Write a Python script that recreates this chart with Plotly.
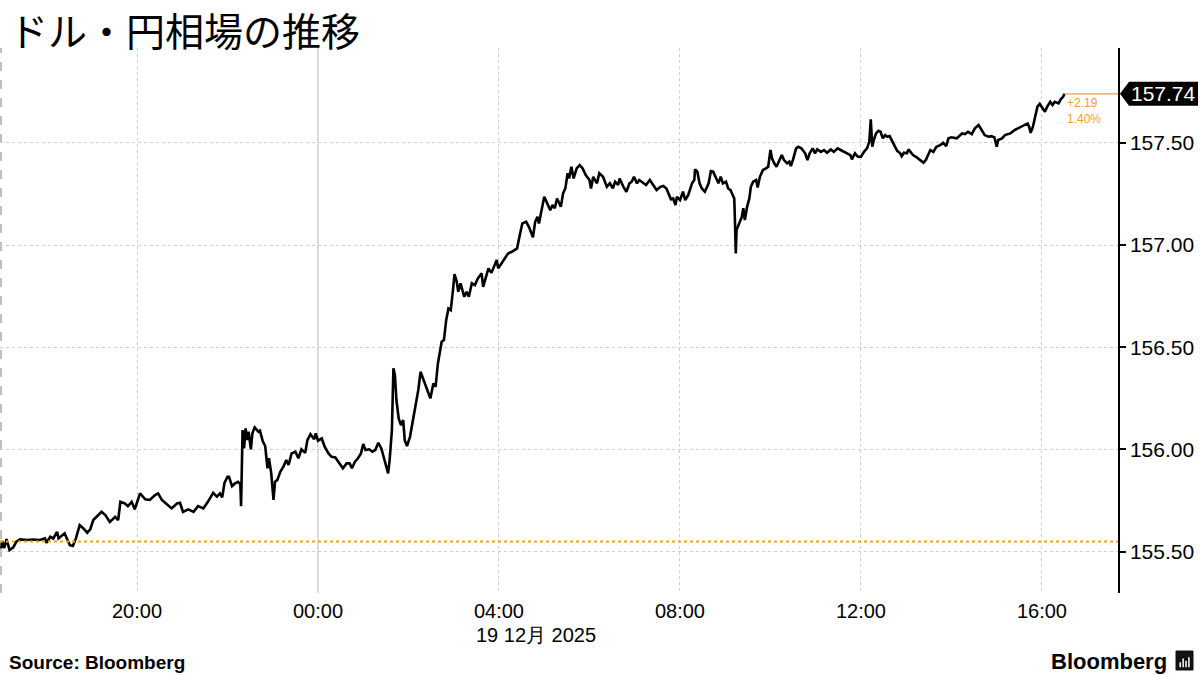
import pandas as pd
import plotly.graph_objects as go

# ---------------- data ----------------
start = pd.Timestamp("2025-12-18 17:00")
# minutes since 2025-12-18 17:00 (JST)
minutes = [0, 1, 4, 7, 11, 16, 20, 25, 34, 42, 51, 58, 60, 65, 69, 74, 76, 80, 84, 87,
           91, 95, 99, 104, 109, 114, 118, 122, 129, 133, 138, 144, 151, 155, 158, 164, 168, 173, 177, 184,
           191, 197, 204, 208, 213, 219, 226, 233, 237, 241, 248, 255, 261, 268, 274, 281, 286, 290, 293, 296,
           300, 302, 306, 310, 314, 317, 318, 320, 322, 324, 326, 328, 331, 333, 336, 341, 343, 347, 350, 353,
           355, 358, 361, 363, 366, 370, 374, 378, 381, 385, 390, 394, 398, 403, 406, 410, 415, 417, 420, 425,
           429, 434, 438, 443, 447, 453, 458, 462, 465, 469, 473, 477, 480, 483, 488, 492, 496, 500, 504, 507,
           511, 513, 515, 518, 520, 522, 524, 527, 530, 533, 535, 538, 542, 546, 550, 553, 556, 560, 564, 569,
           573, 576, 579, 584, 587, 590, 593, 596, 599, 601, 604, 606, 609, 614, 617, 620, 624, 628, 632, 637,
           639, 643, 646, 650, 654, 657, 659, 663, 668, 672, 677, 681, 684, 688, 691, 696, 700, 705, 708, 711,
           713, 717, 720, 724, 728, 731, 734, 737, 742, 745, 748, 751, 753, 756, 759, 763, 767, 771, 775, 780,
           782, 785, 790, 793, 798, 803, 807, 811, 814, 818, 820, 825, 829, 833, 836, 839, 843, 846, 851, 855,
           860, 865, 869, 874, 878, 882, 885, 888, 891, 894, 896, 900, 904, 907, 911, 916, 919, 920, 923, 926,
           929, 933, 938, 941, 944, 948, 951, 954, 957, 961, 964, 967, 970, 972, 973, 974, 975, 979, 982, 984,
           986, 989, 992, 994, 997, 1001, 1003, 1006, 1010, 1014, 1017, 1020, 1022, 1025, 1028, 1032, 1035, 1038, 1042, 1045,
           1047, 1050, 1054, 1057, 1061, 1066, 1069, 1072, 1076, 1079, 1082, 1087, 1091, 1095, 1100, 1104, 1109, 1113, 1118, 1122,
           1126, 1128, 1132, 1136, 1140, 1144, 1148, 1151, 1153, 1155, 1157, 1160, 1163, 1166, 1169, 1172, 1175, 1178, 1182, 1185,
           1188, 1192, 1194, 1197, 1201, 1203, 1206, 1209, 1214, 1218, 1223, 1226, 1229, 1232, 1236, 1240, 1245, 1249, 1253, 1256,
           1260, 1267, 1274, 1278, 1282, 1287, 1291, 1296, 1300, 1304, 1309, 1313, 1317, 1320, 1322, 1327, 1331, 1338, 1344, 1351,
           1358, 1361, 1363, 1365, 1368, 1371, 1374, 1377, 1381, 1384, 1387, 1391, 1394, 1397, 1402, 1405, 1408, 1410]
prices = [155.516, 155.553, 155.518, 155.562, 155.508, 155.521, 155.549, 155.560, 155.557, 155.560,
          155.557, 155.565, 155.544, 155.573, 155.565, 155.597, 155.565, 155.576, 155.590, 155.565,
          155.532, 155.528, 155.565, 155.630, 155.614, 155.593, 155.609, 155.655, 155.679, 155.695,
          155.679, 155.646, 155.671, 155.655, 155.744, 155.736, 155.723, 155.744, 155.707, 155.785,
          155.756, 155.753, 155.777, 155.785, 155.753, 155.736, 155.712, 155.736, 155.739, 155.695,
          155.707, 155.695, 155.723, 155.712, 155.744, 155.788, 155.769, 155.785, 155.766, 155.837,
          155.867, 155.867, 155.821, 155.834, 155.842, 155.831, 155.723, 156.095, 156.005, 156.103,
          156.046, 156.087, 156.001, 156.079, 156.108, 156.087, 156.092, 156.038, 156.017, 155.908,
          155.957, 155.883, 155.753, 155.842, 155.850, 155.891, 155.915, 155.948, 155.924, 155.981,
          155.989, 155.957, 156.001, 155.984, 156.046, 156.075, 156.050, 156.079, 156.043, 156.054,
          156.013, 155.981, 155.964, 155.961, 155.940, 155.908, 155.932, 155.932, 155.908, 155.940,
          155.957, 155.981, 156.027, 155.997, 156.001, 155.989, 155.997, 156.033, 156.005, 155.964,
          155.913, 155.883, 155.948, 156.095, 156.397, 156.364, 156.242, 156.152, 156.119, 156.144,
          156.046, 156.017, 156.062, 156.144, 156.226, 156.291, 156.380, 156.340, 156.291, 156.250,
          156.323, 156.307, 156.421, 156.527, 156.535, 156.633, 156.690, 156.682, 156.780, 156.858,
          156.820, 156.772, 156.813, 156.747, 156.772, 156.747, 156.813, 156.804, 156.837, 156.862,
          156.796, 156.853, 156.886, 156.864, 156.902, 156.927, 156.886, 156.910, 156.935, 156.959,
          156.967, 156.976, 156.984, 157.057, 157.106, 157.114, 157.087, 157.038, 157.114, 157.138,
          157.106, 157.180, 157.236, 157.204, 157.171, 157.196, 157.180, 157.228, 157.187, 157.253,
          157.277, 157.351, 157.326, 157.383, 157.326, 157.375, 157.391, 157.375, 157.342, 157.318,
          157.277, 157.334, 157.302, 157.351, 157.334, 157.285, 157.302, 157.277, 157.310, 157.294,
          157.326, 157.285, 157.261, 157.302, 157.310, 157.334, 157.302, 157.318, 157.302, 157.294,
          157.318, 157.294, 157.269, 157.285, 157.289, 157.277, 157.245, 157.224, 157.228, 157.196,
          157.236, 157.220, 157.261, 157.220, 157.245, 157.302, 157.318, 157.370, 157.359, 157.302,
          157.277, 157.261, 157.302, 157.362, 157.359, 157.326, 157.302, 157.334, 157.302, 157.310,
          157.277, 157.269, 157.245, 157.228, 157.106, 156.959, 157.073, 157.114, 157.138, 157.180,
          157.122, 157.187, 157.228, 157.285, 157.310, 157.318, 157.282, 157.334, 157.367, 157.375,
          157.383, 157.465, 157.424, 157.400, 157.383, 157.416, 157.440, 157.416, 157.400, 157.408,
          157.386, 157.419, 157.473, 157.481, 157.473, 157.449, 157.416, 157.449, 157.473, 157.449,
          157.468, 157.456, 157.465, 157.452, 157.468, 157.456, 157.473, 157.465, 157.456, 157.445,
          157.440, 157.419, 157.449, 157.432, 157.432, 157.456, 157.473, 157.505, 157.615, 157.481,
          157.514, 157.546, 157.559, 157.554, 157.522, 157.538, 157.530, 157.533, 157.505, 157.481,
          157.461, 157.449, 157.435, 157.452, 157.449, 157.468, 157.456, 157.440, 157.429, 157.416,
          157.403, 157.416, 157.445, 157.465, 157.456, 157.481, 157.489, 157.500, 157.484, 157.522,
          157.527, 157.522, 157.546, 157.543, 157.554, 157.543, 157.571, 157.587, 157.563, 157.538,
          157.530, 157.533, 157.527, 157.481, 157.514, 157.522, 157.538, 157.546, 157.563, 157.576,
          157.587, 157.595, 157.579, 157.549, 157.579, 157.625, 157.677, 157.690, 157.669, 157.652,
          157.677, 157.701, 157.685, 157.701, 157.693, 157.713, 157.725, 157.740]

prev_close = 155.55
change_label = "+2.19"
pct_label = "1.40%"

title_text = "ドル・円相場の推移"
source_text = "Source: Bloomberg"
date_label = "19 12月 2025"

x_tick_vals = ["2025-12-18 20:00", "2025-12-19 00:00", "2025-12-19 04:00",
               "2025-12-19 08:00", "2025-12-19 12:00", "2025-12-19 16:00"]
x_tick_text = ["20:00", "00:00", "04:00", "08:00", "12:00", "16:00"]
y_tick_vals = [155.5, 156.0, 156.5, 157.0, 157.5]
y_tick_text = ["155.50", "156.00", "156.50", "157.00", "157.50"]
midnight = "2025-12-19 00:00"
x_range = ["2025-12-18 16:58:20", "2025-12-19 17:40:50"]
y_range = [155.298, 157.964]

# --------------- figure ----------------
times = start + pd.to_timedelta(minutes, unit="min")
last_t = times[-1]
last_p = prices[-1]

ORANGE = "#F0A030"
FONT = "Liberation Sans, Arial, sans-serif"

W, H = 1200, 675
ML, MR, MT, MB = 0, 82, 48, 82
PW = W - ML - MR
PH = H - MT - MB
yunit = (y_range[1] - y_range[0]) / PH  # data units per pixel


def px_x(p):
    return p / PW


def px_y(p):
    """pixel row from top of page -> paper y"""
    return (MT + PH - p) / PH


fig = go.Figure()
fig.add_trace(go.Scatter(x=times, y=prices, mode="lines",
                         line=dict(color="black", width=2.6),
                         hoverinfo="skip", showlegend=False))

shapes = [
    # left dashed border
    dict(type="line", xref="paper", yref="paper", x0=px_x(1), x1=px_x(1), y0=0, y1=1,
         line=dict(color="#aaaaaa", width=1.5, dash="dash"), layer="below"),
    # midnight solid line
    dict(type="line", xref="x", yref="paper", x0=midnight, x1=midnight, y0=0, y1=1,
         line=dict(color="#c4c4c4", width=1), layer="below"),
    # previous close
    dict(type="line", xref="paper", yref="y", x0=0, x1=1, y0=prev_close, y1=prev_close,
         line=dict(color=ORANGE, width=2, dash="dot"), layer="above"),
    # last price connector
    dict(type="line", xref="x", yref="y", x0=last_t, x1=x_range[1], y0=last_p, y1=last_p,
         line=dict(color=ORANGE, width=1.2)),
]
# last price tag (arrow box)
hh = 12 * yunit
tip = 1 + px_x(2)
body = 1 + px_x(11)
right = 1 + px_x(80)
shapes.append(dict(type="path", xref="paper", yref="y",
                   path=f"M {tip},{last_p} L {body},{last_p + hh} L {right},{last_p + hh} "
                        f"L {right},{last_p - hh} L {body},{last_p - hh} Z",
                   fillcolor="black", line=dict(color="black", width=0)))
# Bloomberg logo mark
lx0, lx1 = 1 + px_x(1176 - 1118), 1 + px_x(1193 - 1118)
ly0, ly1 = px_y(670), px_y(651)
shapes.append(dict(type="rect", xref="paper", yref="paper", x0=lx0, x1=lx1, y0=ly0, y1=ly1,
                   fillcolor="#111111", line=dict(color="#111111", width=1)))
for i, hgt in enumerate([0.35, 0.6, 0.45, 0.7]):
    bx = lx0 + (lx1 - lx0) * (0.25 + 0.17 * i)
    shapes.append(dict(type="line", xref="paper", yref="paper", x0=bx, x1=bx,
                       y0=ly0 + (ly1 - ly0) * 0.15, y1=ly0 + (ly1 - ly0) * (0.15 + hgt * 0.75),
                       line=dict(color="white", width=1.5)))

annotations = [
    dict(text=title_text, xref="paper", yref="paper", x=px_x(7), y=px_y(29),
         showarrow=False, font=dict(family="Noto Sans CJK JP", size=39, color="black"),
         xanchor="left", yanchor="middle"),
    dict(text=f"{last_p:.2f}", xref="paper", yref="y", x=(body + right) / 2, y=last_p,
         showarrow=False, font=dict(family=FONT, size=21, color="white"),
         xanchor="center", yanchor="middle"),
    dict(text=change_label, xref="x", yref="y", x=last_t, y=last_p, yshift=-9, xshift=0,
         showarrow=False, font=dict(family=FONT, size=12, color=ORANGE),
         xanchor="left", yanchor="middle"),
    dict(text=pct_label, xref="x", yref="y", x=last_t, y=last_p, yshift=-25, xshift=0,
         showarrow=False, font=dict(family=FONT, size=12, color=ORANGE),
         xanchor="left", yanchor="middle"),
    dict(text=date_label, xref="x", yref="paper", x=x_tick_vals[2], y=px_y(635),
         xshift=-25, showarrow=False, font=dict(family=FONT, size=20, color="black"),
         xanchor="left", yanchor="middle"),
    dict(text=f"<b>{source_text}</b>", xref="paper", yref="paper", x=px_x(7),
         y=px_y(662), showarrow=False,
         font=dict(family=FONT, size=19, color="black"), xanchor="left", yanchor="middle"),
    dict(text="<b>Bloomberg</b>", xref="paper", yref="paper", x=1 + px_x(1169 - 1118),
         y=px_y(661), showarrow=False,
         font=dict(family=FONT, size=22, color="black"), xanchor="right", yanchor="middle"),
]

fig.update_layout(
    width=W, height=H,
    margin=dict(l=ML, r=MR, t=MT, b=MB, autoexpand=False),
    paper_bgcolor="white", plot_bgcolor="white",
    xaxis=dict(type="date", range=x_range, tickvals=x_tick_vals, ticktext=x_tick_text,
               showgrid=True, gridcolor="#cfcfcf", griddash="dot", gridwidth=1,
               ticks="", showline=False, zeroline=False, ticklabelstandoff=4,
               tickfont=dict(family=FONT, size=20, color="black")),
    yaxis=dict(side="right", range=y_range, tickvals=y_tick_vals, ticktext=y_tick_text,
               showgrid=True, gridcolor="#cfcfcf", griddash="dot", gridwidth=1,
               ticks="outside", ticklen=6, tickwidth=2, tickcolor="black",
               showline=True, linecolor="black", linewidth=1.5, zeroline=False,
               tickfont=dict(family=FONT, size=21, color="black")),
    shapes=shapes,
    annotations=annotations,
)

fig.write_html("out.html", config={"displayModeBar": False},
               post_script="document.body.style.margin='0px';")
